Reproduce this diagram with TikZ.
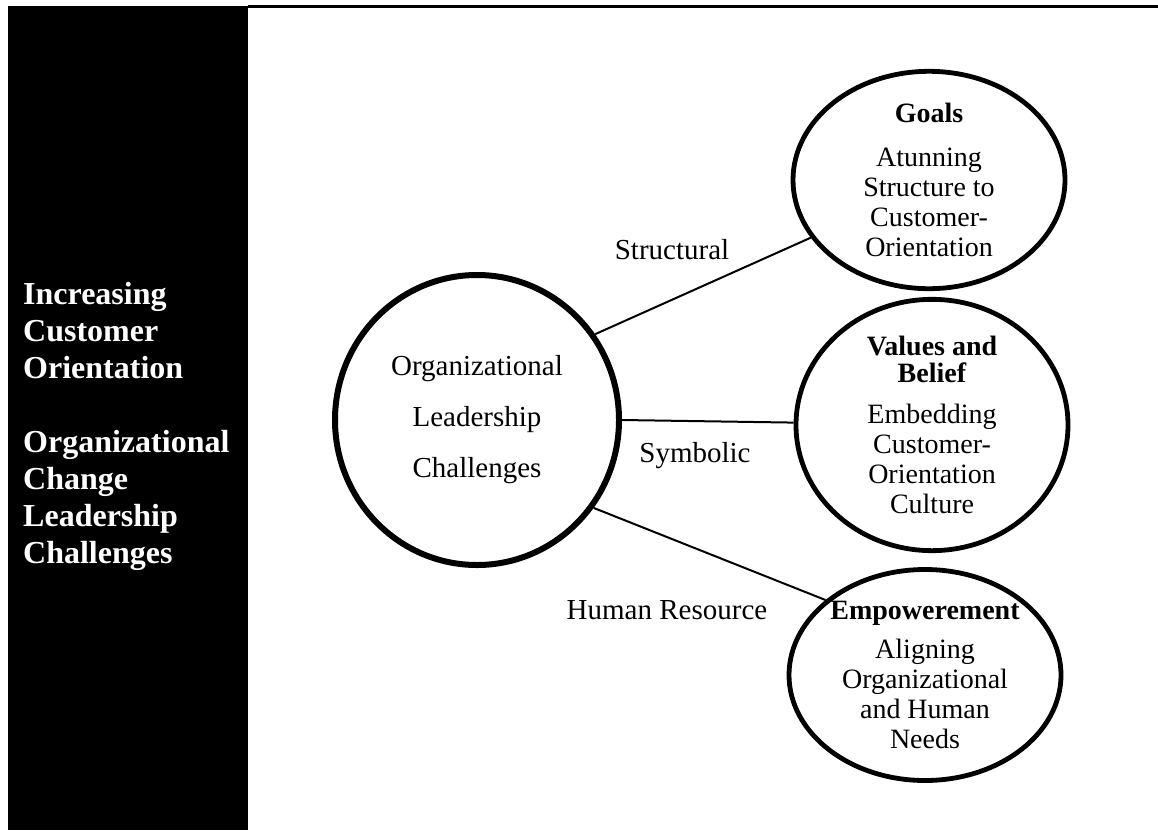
\documentclass[tikz,border=0pt]{standalone}
\usepackage{fontspec}
\setmainfont{Liberation Serif}
\usetikzlibrary{shapes.geometric}
\begin{document}
\begin{tikzpicture}[x=1pt,y=-1pt,
  bubble/.style={draw, ellipse, line width=4.8pt, inner sep=0pt, align=center,
    minimum width=272pt, minimum height=211pt, font=\fontsize{28}{30}\selectfont},
  hub/.style={draw, ellipse, line width=6pt, inner sep=0pt, align=center,
    minimum width=284pt, minimum height=290pt, font=\fontsize{29}{51}\selectfont},
  link/.style={line width=2pt},
  linklabel/.style={font=\fontsize{29}{34}\selectfont, anchor=base, inner sep=0pt},
  sidetext/.style={text=white, font=\fontsize{32}{37}\selectfont\bfseries,
    align=left, anchor=north west, inner sep=0pt}]
\useasboundingbox (0,0) rectangle (1158,830);

% side banner and top rule
\fill[black] (8,6) rectangle (248,830);
\draw[line width=3pt] (248,6.5) -- (1158,6.5);

\node[sidetext] (side) at (23,282)
  {Increasing\\Customer\\Orientation\\[37pt]Organizational\\Change\\Leadership\\Challenges};

% central hub
\node[hub] (hub) at (477,420) {Organizational\\Leadership\\Challenges};

% outer frames
\node[bubble] (goals) at (929,180)
  {\textbf{Goals}\\[14pt]Atunning\\Structure to\\Customer-\\Orientation};
\node[bubble] (values) at (932,425)
  {\textbf{Values and}\\[-3pt]\textbf{Belief}\\[11pt]Embedding\\Customer-\\Orientation\\Culture};
\node[bubble] (empower) at (925,675)
  {\textbf{Empowerement}\\[9pt]Aligning\\Organizational\\and Human\\Needs};

% connectors
\draw[link] (hub.36) -- (goals.206);
\draw[link] (hub.0) -- (values.179);
\draw[link] (hub.-37) -- (empower.143);

% frame labels
\node[linklabel] (lstruct) at (672,259) {Structural};
\node[linklabel] (lsym) at (695,462) {Symbolic};
\node[linklabel] (lhuman) at (667,619) {Human Resource};
\end{tikzpicture}
\end{document}
